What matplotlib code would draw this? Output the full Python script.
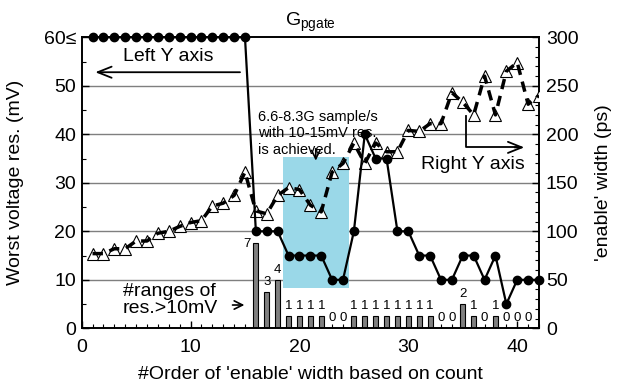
import matplotlib
matplotlib.use("Agg")
import matplotlib.pyplot as plt
from matplotlib.patches import Rectangle
from matplotlib.ticker import MultipleLocator

plt.rcParams['font.family'] = ['Liberation Sans', 'DejaVu Sans']
plt.rcParams['mathtext.fontset'] = 'custom'
plt.rcParams['mathtext.rm'] = 'Liberation Sans'
plt.rcParams['mathtext.it'] = 'Liberation Sans:italic'

# ---------------- data ----------------
order = list(range(1, 43))
worst_res = [60, 60, 60, 60, 60, 60, 60, 60, 60, 60, 60, 60, 60, 60, 60,
             20, 20, 20, 15, 15, 15, 15, 10, 10, 20, 40, 35, 35, 20, 20,
             15, 15, 10, 10, 15, 15, 10, 15, 5, 10, 10, 10]
enable_width = [77, 77, 82, 82, 90, 90, 98, 100, 105, 109, 111, 126, 129, 137, 161,
                121, 118, 137, 145, 143, 127, 120, 161, 170, 191, 170, 191, 182,
                182, 204, 203, 211, 211, 243, 233, 220, 260, 220, 265, 274, 231, 240]
range_x = list(range(16, 42))
range_counts = [7, 3, 4, 1, 1, 1, 1, 0, 0, 1, 1, 1, 1, 1, 1, 1, 1, 0, 0, 2, 1, 0, 1, 0, 0, 0]
left_ticks = [0, 10, 20, 30, 40, 50, 60]
left_ticklabels = ['0', '10', '20', '30', '40', '50', '60≤']
right_ticks = [0, 50, 100, 150, 200, 250, 300]
x_ticks = [0, 10, 20, 30, 40]

BAR_SCALE = 2.5  # count -> left-axis units

fig = plt.figure(figsize=(6.17, 3.87), dpi=100)
ax = fig.add_axes([0.1323, 0.1517, 0.7413, 0.7519])
ax2 = ax.twinx()
ax3 = ax.twinx()

FS = 14

# base axis: grid, highlight, bars
ax.set_xlim(0, 42)
ax.set_ylim(0, 60)
for g in [10, 20, 30, 40, 50]:
    ax.axhline(g, color='#7f7f7f', lw=1.0, zorder=0.5)
ax.add_patch(Rectangle((18.5, 8.3), 6.05, 27.1, facecolor='#9ad8e8',
                       edgecolor='none', zorder=1))
bar_h = [c * BAR_SCALE for c in range_counts]
ax.bar(range_x, bar_h, width=0.45, color='#808080', edgecolor='black',
       linewidth=0.8, zorder=2)
for xv, c, h in zip(range_x, range_counts, bar_h):
    if xv == 16:
        ax.text(xv - 0.8, h - 0.2, str(c), ha='center', va='center', fontsize=9.5, zorder=3)
    else:
        ax.text(xv, h + 2.1, str(c), ha='center', va='center', fontsize=9.5, zorder=3)

ax.set_yticks(left_ticks)
ax.set_yticklabels(left_ticklabels)
ax.set_xticks(x_ticks)
ax.xaxis.set_minor_locator(MultipleLocator(1))
ax.yaxis.set_minor_locator(MultipleLocator(5))
ax.tick_params(axis='both', which='major', direction='in', length=5, width=1,
               labelsize=FS, pad=4)
ax.tick_params(axis='x', which='major', pad=8)
ax.tick_params(axis='both', which='minor', direction='in', length=3, width=0.8)
ax.set_xlabel("#Order of 'enable' width based on count", fontsize=FS)
ax.xaxis.set_label_coords(0.5, -0.13)
ax.set_ylabel("Worst voltage res. (mV)", fontsize=FS)
ax.yaxis.set_label_coords(-0.125, 0.5)
for s in ax.spines.values():
    s.set_linewidth(1.2)

# right axis: enable width triangles
ax2.set_ylim(0, 300)
ax2.set_yticks(right_ticks)
ax2.yaxis.set_minor_locator(MultipleLocator(10))
ax2.tick_params(axis='y', which='major', direction='in', length=5, width=1,
                labelsize=FS, pad=5)
ax2.tick_params(axis='y', which='minor', direction='in', length=3, width=0.8)
ax2.set_ylabel("'enable' width (ps)", fontsize=FS)
ax2.yaxis.set_label_coords(1.122, 0.5)
ax2.plot(order, enable_width, linestyle='none', marker='^', markersize=8.5,
         markerfacecolor='white', markeredgecolor='black', markeredgewidth=0.8,
         zorder=3)
ax2.plot(order, enable_width, linestyle=(0, (3, 2)), color='black', lw=2.5,
         zorder=4)
for s in ax2.spines.values():
    s.set_linewidth(1.2)

# top overlay axis (left scale): circles + annotations
ax3.set_ylim(0, 60)
ax3.set_xlim(0, 42)
ax3.set_yticks([])
ax3.axis('off')
ax3.plot(order, worst_res, color='black', lw=1.6, marker='o', markersize=6,
         clip_on=False, zorder=5)

ax3.annotate('', xy=(1.0, 52.8), xytext=(14.8, 52.8),
             arrowprops=dict(arrowstyle='->,head_length=1.0,head_width=0.4',
                             color='black', lw=1.3))
ax3.text(7.95, 56.0, 'Left Y axis', ha='center', va='center', fontsize=FS)

ax3.plot([35.3, 35.3, 40.0], [43.8, 37.3, 37.3], color='black', lw=1.3)
ax3.annotate('', xy=(40.9, 37.3), xytext=(39.5, 37.3),
             arrowprops=dict(arrowstyle='->,head_length=1.0,head_width=0.4',
                             color='black', lw=1.3))
ax3.text(35.9, 33.8, 'Right Y axis', ha='center', va='center', fontsize=FS)

ax3.text(16.2, 40.2, '6.6-8.3G sample/s\nwith 10-15mV res.\nis achieved.',
         ha='left', va='center', fontsize=10.5, linespacing=1.25)
ax3.annotate('', xy=(21.5, 34.0), xytext=(21.5, 37.6),
             arrowprops=dict(arrowstyle='->,head_length=0.6,head_width=0.3',
                             color='black', lw=1.2))

ax3.text(3.8, 5.8, '#ranges of\nres.>10mV', ha='left', va='center',
         fontsize=FS, linespacing=1.0)
ax3.annotate('', xy=(15.2, 4.8), xytext=(13.6, 4.8),
             arrowprops=dict(arrowstyle='->,head_length=0.6,head_width=0.3',
                             color='black', lw=1.2))

ax.set_title(r'G$_{\mathrm{pgate}}$', fontsize=FS, pad=8)

fig.savefig('out.png', dpi=100)
